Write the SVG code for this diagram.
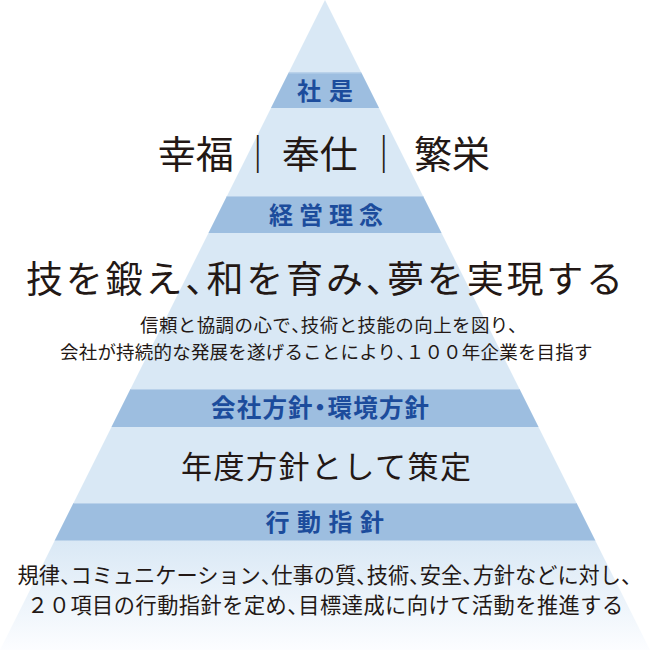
<svg xmlns="http://www.w3.org/2000/svg" width="650" height="650" viewBox="0 0 650 650">
  <defs>
    <linearGradient id="pyrFill" gradientUnits="userSpaceOnUse" x1="0" y1="0" x2="0" y2="650">
      <stop offset="0" stop-color="#d9e8f5"/>
      <stop offset="0.83" stop-color="#d9e8f5"/>
      <stop offset="1" stop-color="#fcfdff"/>
    </linearGradient>
    <clipPath id="pyrClip">
      <polygon points="325,0 0,650 650,650"/>
    </clipPath>
    <style>
      .band { fill: #9dbee0; }
      .bandEdge { fill: #b9d1ea; }
      .head { font-family: "Noto Sans CJK JP", "Noto Sans", sans-serif; font-weight: 700; fill: #1c4c9c; text-anchor: middle; }
      .headL { font-family: "Noto Sans CJK JP", "Noto Sans", sans-serif; font-weight: 700; fill: #1c4c9c; }
      .main { font-family: "Noto Sans CJK JP", "Noto Sans", sans-serif; font-weight: 400; fill: #231815; }
      .mid { text-anchor: middle; }
    </style>
  </defs>

  <g id="pyramid">
    <polygon points="325,0 0,650 650,650" fill="url(#pyrFill)"/>
    <g clip-path="url(#pyrClip)">
      <rect class="band" x="0" y="72.5" width="650" height="35.5"/>
      <rect class="bandEdge" x="0" y="72.5" width="650" height="1"/>
      <rect class="band" x="0" y="196" width="650" height="37"/>
      <rect class="bandEdge" x="0" y="196" width="650" height="1"/>
      <rect class="band" x="0" y="389" width="650" height="38"/>
      <rect class="bandEdge" x="0" y="389" width="650" height="1"/>
      <rect class="band" x="0" y="503" width="650" height="37.5"/>
      <rect class="bandEdge" x="0" y="503" width="650" height="1"/>
    </g>
  </g>

  <g id="tier-shaze">
    <text class="head" x="329" y="100" font-size="24" letter-spacing="8">社是</text>
    <text class="main" y="168" font-size="38">
      <tspan class="mid" x="200">幸福</tspan>
      <tspan class="mid" x="262">｜</tspan>
      <tspan class="mid" x="324">奉仕</tspan>
      <tspan class="mid" x="388">｜</tspan>
      <tspan class="mid" x="452">繁栄</tspan>
    </text>
  </g>

  <g id="tier-keiei">
    <text class="head" x="329" y="224" font-size="24" letter-spacing="6">経営理念</text>
    <text class="main" x="26" y="292.5" font-size="37" letter-spacing="2.8">技を鍛え<tspan letter-spacing="-15.7">、</tspan>和を育み<tspan letter-spacing="-15.7">、</tspan>夢を実現する</text>
    <text class="main" x="140" y="332" font-size="18.5" letter-spacing="0.4">信頼と協調の心で<tspan letter-spacing="-8.85">、</tspan>技術と技能の向上を図り、</text>
    <text class="main" x="60" y="359" font-size="18.5" letter-spacing="0.2">会社が持続的な発展を遂げることにより<tspan letter-spacing="-9.05">、</tspan>１００年企業を目指す</text>
  </g>

  <g id="tier-houshin">
    <text class="headL" x="211" y="417.3" font-size="24.5" letter-spacing="1.2">会社方<tspan letter-spacing="-4.8">針</tspan><tspan letter-spacing="-4.8">・</tspan>環境方針</text>
    <text class="main" x="181" y="478" font-size="31" textLength="290" lengthAdjust="spacing">年度方針として策定</text>
  </g>

  <g id="tier-koudou">
    <text class="head" x="328.5" y="530.5" font-size="24" letter-spacing="7.5">行動指針</text>
    <text class="main" x="17.5" y="583" font-size="21.2">規律<tspan letter-spacing="-10.6">、</tspan>コミュニケーション<tspan letter-spacing="-10.6">、</tspan>仕事の質<tspan letter-spacing="-10.6">、</tspan>技術<tspan letter-spacing="-10.6">、</tspan>安全<tspan letter-spacing="-10.6">、</tspan>方針などに対し、</text>
    <text class="main" x="27" y="613" font-size="21.2" letter-spacing="0.5">２０項目の行動指針を定め<tspan letter-spacing="-10.1">、</tspan>目標達成に向けて活動を推進する</text>
  </g>
</svg>
